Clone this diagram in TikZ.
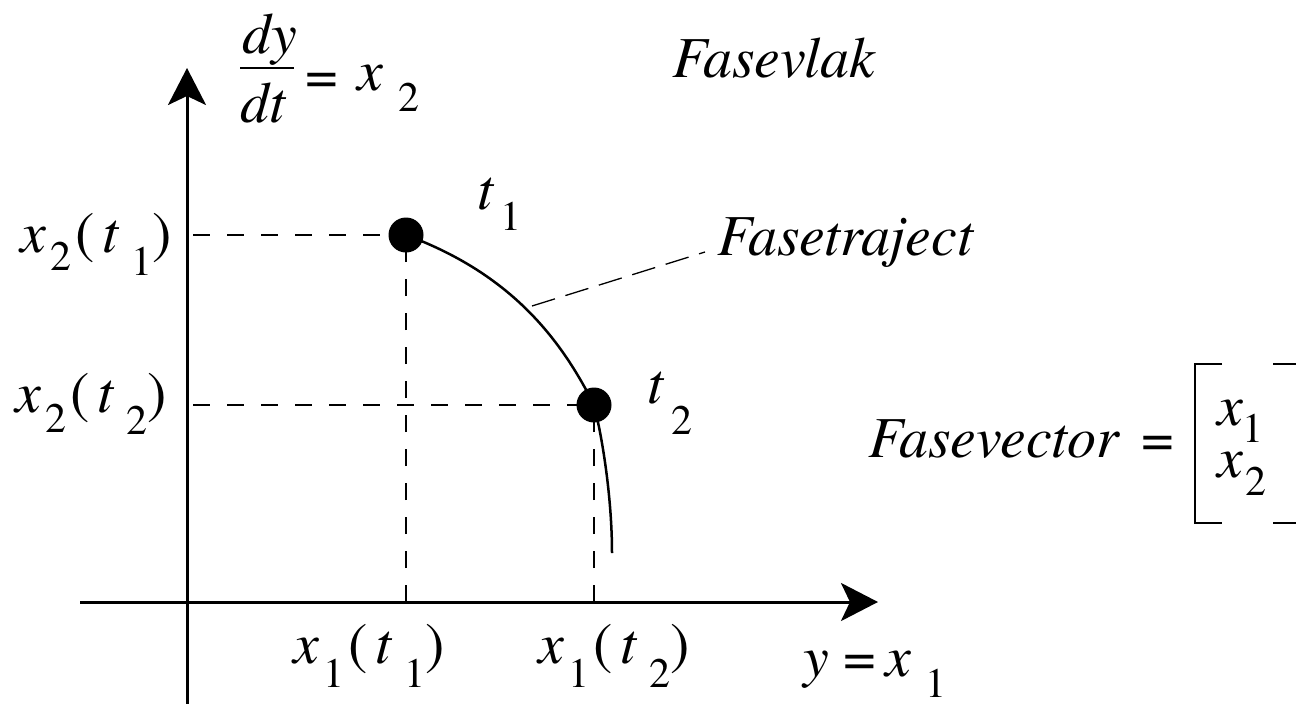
\documentclass[tikz,border=0pt]{standalone}
\usepackage{fontspec}
\setmainfont{texgyretermes}[Extension=.otf,UprightFont=*-regular,ItalicFont=*-italic,BoldFont=*-bold,BoldItalicFont=*-bolditalic]
\usetikzlibrary{arrows.meta}
\newcommand\bigf{\fontsize{58}{62}\selectfont}
\newcommand\smf{\fontsize{42}{44}\selectfont}
\newcommand\sbx[2]{\raisebox{-#1}[0pt][0pt]{\smf\upshape #2}}
\newcommand\xtlab[4]{\itshape x\hspace{5pt}\sbx{#2}{#1}\hspace{4pt}\upshape(\hspace{7pt}\itshape t\hspace{13pt}\sbx{#4}{#3}\upshape)}
\begin{document}
\begin{tikzpicture}[x=1pt,y=-1pt,
  lbl/.style={inner sep=0pt,outer sep=0pt,anchor=base west,font=\bigf},
  axis/.style={line width=3pt,-{Stealth[length=37pt,width=38pt,inset=9pt]}},
  guide/.style={line width=1.3pt,dash pattern=on 17pt off 17pt},
  lead/.style={line width=1.3pt,dash pattern=on 24pt off 11pt},
  traj/.style={line width=2.5pt},
  dot/.style={circle,fill=black,minimum size=35pt,inner sep=0pt},
  brk/.style={line width=2.5pt}]
\useasboundingbox (0,0) rectangle (1296,704);
% axes
\coordinate (ybot) at (187,704);
\coordinate (ytop) at (187,68);
\coordinate (xl) at (80,602);
\coordinate (xr) at (878,602);
% points
\coordinate (p1) at (406,235);
\coordinate (p2) at (594,405);
\coordinate (pe) at (612,553);
\coordinate (h1) at (193,235);
\coordinate (h2) at (193,405);
\coordinate (lc) at (532,306);
\coordinate (le) at (705,252);
% guides
\draw[guide] (h1) -- (p1);
\draw[guide] (h2) -- (p2);
\draw[guide] (p1 |- xl) -- (p1);
\draw[guide] (p2 |- xl) -- (p2);
\draw[lead] (lc) -- (le);
% trajectory
\draw[traj] (p1) .. controls (506,272) and (558,333) .. (p2) .. controls (603,440) and (612,500) .. (pe);
\node[dot] (t1) at (p1) {};
\node[dot] (t2) at (p2) {};
\draw[axis] (ybot) -- (ytop);
\draw[axis] (xl) -- (xr);
% labels
\node[lbl] (fvlak) at (672,77) {\itshape Fasevlak};
\node[lbl] (ftraj) at (717,255) {\itshape Fasetraject};
\node[lbl] (fvec) at (868,457) {\itshape Fasevector\hspace{22pt}\upshape=};
\node[lbl,anchor=base] (dy) at (270,53) {\itshape dy};
\node[lbl,anchor=base] (dt) at (263,122) {\itshape dt};
\coordinate (fb1) at (240,68);
\coordinate (fb2) at (294,68);
\draw[line width=2.5pt] (fb1) -- (fb2);
\node[lbl] (eq) at (305,94) {=};
\node[lbl] (xx2) at (357,90) {\itshape x\hspace{16pt}\sbx{21pt}{2}};
\node[lbl] (lt1) at (477,209) {\itshape t\hspace{7pt}\sbx{21pt}{1}};
\node[lbl] (lt2) at (647,403) {\itshape t\hspace{8pt}\sbx{31pt}{2}};
\node[lbl] (lx2t1) at (20,252) {\xtlab{2}{18pt}{1}{23pt}};
\node[lbl] (lx2t2) at (15,412) {\xtlab{2}{20pt}{2}{22pt}};
\node[lbl] (lx1t1) at (293,663) {\xtlab{1}{24pt}{1}{24pt}};
\node[lbl] (lx1t2) at (538,663) {\xtlab{1}{24pt}{2}{24pt}};
\node[lbl] (lyx1) at (803,676) {\itshape y \upshape=\hspace{10pt}\itshape x\hspace{14pt}\sbx{21pt}{1}};
% phase vector
\node[lbl] (mvec) at (1217,425) {\begin{tabular}[t]{@{}l@{}}\itshape x\hspace{0pt}\sbx{17pt}{1}\\[-10pt]\itshape x\hspace{3pt}\sbx{18pt}{2}\end{tabular}};
\draw[brk] (1222,364) -- (1195,364) -- (1195,523) -- (1222,523);
\draw[brk] (1273,364) -- (1302,364) -- (1302,523) -- (1273,523);
\end{tikzpicture}
\end{document}
